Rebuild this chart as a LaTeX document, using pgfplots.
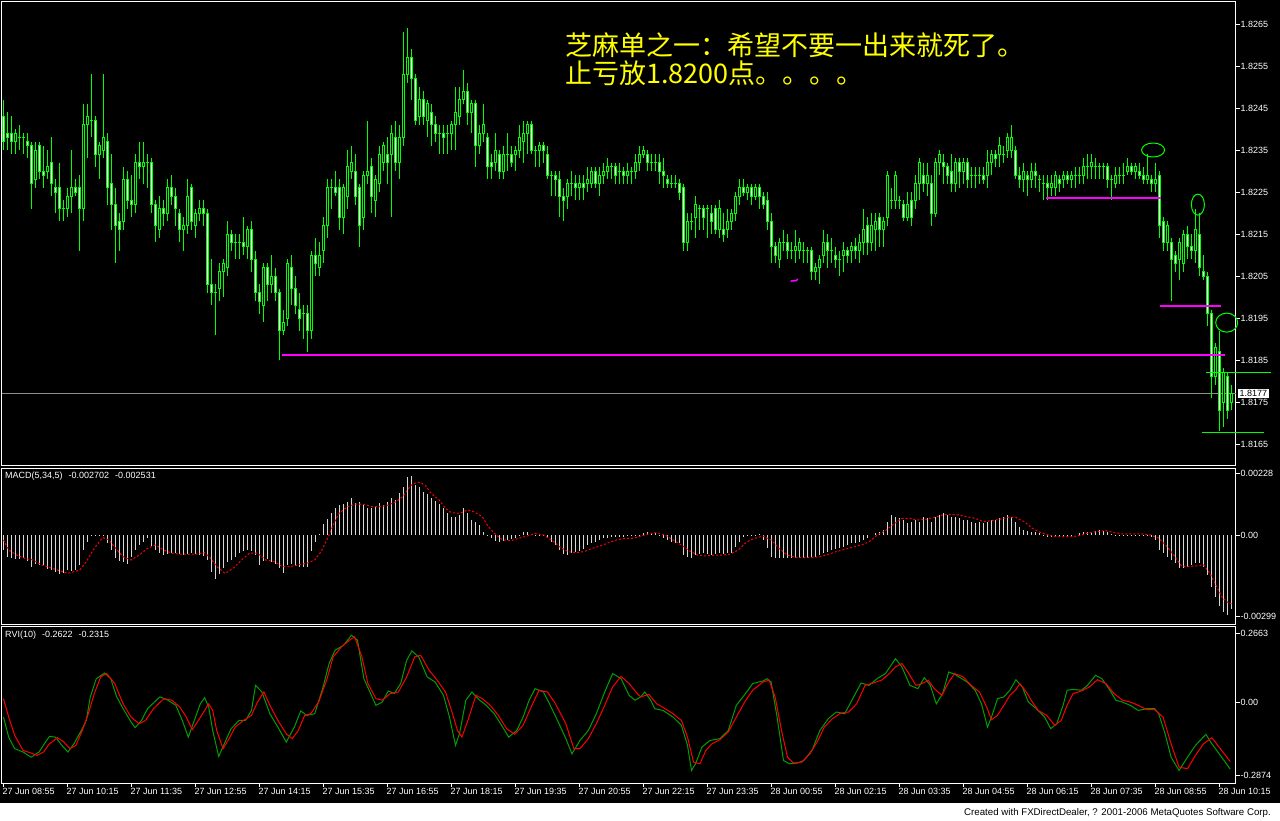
\documentclass[border=0pt]{standalone}
\usepackage{pgfplots}
\pgfplotsset{compat=1.18}
\usepackage{pgfplotstable}
\usetikzlibrary{plotmarks}
\usepackage{fontspec}
\setmainfont{Liberation Sans}
\newfontfamily\cjk{Noto Sans CJK SC}
\newcommand\lab{\fontsize{9}{10}\selectfont}

\definecolor{lime}{RGB}{0,255,0}
\definecolor{mag}{RGB}{255,0,255}
\definecolor{macdbar}{RGB}{215,215,215}
\definecolor{rvig}{RGB}{0,160,0}
\definecolor{rvir}{RGB}{255,0,0}
\definecolor{yel}{RGB}{255,255,0}
\definecolor{bidline}{RGB}{140,140,140}

% 5 min bars, prices in pips above 1.8000 (243 = 1.8243)
\pgfplotstableread{
i o h l c
0 243 247 235 237
1 239 244 235 238
2 239 243 234 237
3 237 240 234 239
4 238 241 235 238
5 238 239 234 238
6 237 239 233 236
7 236 237 221 227
8 228 237 226 235
9 236 237 228 230
10 230 236 226 229
11 230 235 228 231
12 232 238 224 227
13 226 228 220 225
14 226 232 218 221
15 221 223 218 221
16 221 226 219 224
17 224 235 220 226
18 226 228 224 225
19 226 229 211 221
20 221 246 218 241
21 241 246 233 243
22 242 253 238 242
23 242 243 231 234
24 234 237 228 236
25 235 253 233 238
26 237 239 222 226
27 227 234 216 222
28 222 226 208 217
29 218 220 211 216
30 218 231 216 228
31 228 230 221 223
32 223 229 219 222
33 222 234 220 232
34 232 237 228 231
35 231 237 227 232
36 232 234 226 232
37 232 233 220 222
38 222 223 213 217
39 216 224 214 221
40 221 223 217 220
41 220 228 218 226
42 226 229 222 224
43 224 226 217 221
44 220 221 213 216
45 216 219 211 217
46 217 228 215 224
47 226 227 216 218
48 217 221 214 220
49 220 223 218 221
50 221 223 217 220
51 220 221 201 203
52 203 209 198 201
53 201 203 191 201
54 202 208 199 206
55 206 209 200 208
56 207 218 205 215
57 215 216 211 213
58 213 215 209 213
59 213 215 209 213
60 213 219 210 212
61 212 217 209 216
62 216 218 206 209
63 209 211 199 201
64 201 203 196 199
65 198 208 194 207
66 207 208 199 203
67 203 210 201 205
68 205 207 199 201
69 201 202 185 192
70 192 197 191 194
71 195 209 193 208
72 207 210 198 202
73 202 205 196 198
74 197 201 192 195
75 196 198 190 196
76 196 198 187 192
77 192 211 190 210
78 210 214 205 208
79 207 213 205 210
80 211 219 208 217
81 217 228 214 226
82 226 228 221 226
83 226 230 224 225
84 226 228 216 219
85 219 227 215 226
86 224 235 221 231
87 230 236 228 232
88 230 234 222 224
89 226 227 212 217
90 219 230 216 229
91 229 242 227 230
92 231 233 220 224
93 223 229 219 228
94 227 236 225 234
95 232 237 230 236
96 234 238 227 232
97 234 241 219 239
98 238 242 230 232
99 232 241 228 238
100 238 263 236 253
101 253 264 251 257
102 257 259 247 252
103 252 253 241 242
104 243 250 241 247
105 247 249 241 243
106 242 247 238 246
107 244 246 236 241
108 241 243 237 239
109 239 241 234 239
110 239 241 234 238
111 239 241 234 239
112 239 242 235 241
113 241 250 235 244
114 243 250 241 247
115 247 254 246 249
116 249 251 241 244
117 244 247 239 246
118 246 247 231 236
119 236 241 234 239
120 239 246 237 241
121 238 239 228 231
122 232 234 228 231
123 232 239 230 235
124 234 235 228 230
125 230 236 228 234
126 234 239 230 234
127 234 236 231 232
128 234 236 230 235
129 235 241 233 238
130 237 242 232 239
131 239 242 234 241
132 241 242 234 235
133 235 236 231 235
134 235 237 231 236
135 236 237 232 235
136 234 236 228 229
137 229 230 224 229
138 229 230 224 228
139 228 230 219 224
140 224 226 218 223
141 224 228 221 227
142 227 230 224 227
143 227 229 223 226
144 226 229 223 227
145 227 229 223 226
146 227 231 225 228
147 227 231 226 230
148 230 231 226 227
149 227 231 224 229
150 229 232 227 230
151 230 233 228 231
152 231 232 228 231
153 231 232 227 229
154 230 232 227 230
155 230 231 227 229
156 229 232 227 230
157 230 231 227 230
158 230 234 228 232
159 232 236 230 234
160 234 236 233 235
161 234 235 230 232
162 232 234 230 232
163 232 234 230 232
164 232 234 227 230
165 230 233 226 229
166 228 229 226 227
167 227 229 226 227
168 227 229 226 227
169 227 228 223 225
170 226 227 211 213
171 213 220 211 218
172 218 220 216 218
173 219 224 214 222
174 221 222 216 221
175 221 222 216 219
176 221 222 214 221
177 220 222 215 218
178 221 222 215 216
179 216 223 214 221
180 216 220 213 215
181 216 221 214 218
182 218 221 216 220
183 220 225 218 224
184 224 228 222 226
185 226 228 224 225
186 225 227 223 226
187 226 227 222 224
188 224 227 223 226
189 226 227 221 224
190 224 225 221 222
191 223 225 216 218
192 218 220 208 212
193 212 213 208 210
194 209 214 207 213
195 213 216 211 213
196 213 215 209 211
197 211 213 209 211
198 211 216 208 212
199 211 214 209 213
200 211 213 208 211
201 211 212 208 211
202 211 212 204 206
203 206 208 204 207
204 207 210 203 209
205 210 216 208 213
206 213 215 207 211
207 211 214 208 211
208 210 212 207 209
209 209 211 205 209
210 210 213 206 211
211 211 212 208 210
212 211 213 208 212
213 212 214 209 211
214 211 215 208 213
215 213 221 210 216
216 217 219 210 213
217 213 220 211 217
218 216 220 211 218
219 219 220 212 216
220 216 219 212 218
221 219 230 217 229
222 223 226 221 223
223 223 230 221 229
224 223 224 221 223
225 222 223 218 219
226 219 225 218 222
227 223 225 217 219
228 223 229 221 227
229 227 233 223 232
230 229 232 225 227
231 227 232 224 229
232 227 229 217 220
233 220 233 219 232
234 232 235 229 234
235 232 234 227 231
236 231 232 227 229
237 230 234 225 227
238 227 233 225 232
239 232 233 226 230
240 230 233 227 232
241 232 233 226 228
242 229 231 226 229
243 229 231 226 229
244 229 231 227 229
245 229 231 227 228
246 229 235 226 232
247 232 235 229 234
248 234 235 231 233
249 234 238 231 236
250 234 236 232 234
251 235 239 233 238
252 235 241 233 238
253 235 236 228 229
254 229 231 226 228
255 228 232 225 230
256 229 230 224 228
257 228 232 226 230
258 230 232 226 229
259 228 229 225 228
260 227 229 223 227
261 227 229 223 226
262 226 229 224 227
263 226 230 224 229
264 228 229 225 227
265 228 230 226 229
266 229 230 227 228
267 228 230 226 229
268 229 231 226 229
269 229 231 227 229
270 229 233 227 231
271 231 234 228 231
272 231 234 228 232
273 231 233 228 231
274 231 232 228 231
275 231 232 228 231
276 231 232 226 228
277 228 229 223 228
278 227 231 226 229
279 229 231 227 229
280 229 232 227 229
281 230 233 229 231
282 231 232 229 230
283 230 232 228 231
284 230 232 228 229
285 229 231 227 228
286 228 234 227 229
287 228 229 225 227
288 227 232 225 228
289 229 230 214 217
290 218 219 211 213
291 213 218 211 217
292 213 214 199 209
293 210 211 206 208
294 209 214 204 213
295 208 216 206 215
296 215 217 209 212
297 212 215 209 211
298 211 221 208 216
299 215 220 205 207
300 206 210 204 205
301 205 206 193 196
302 196 197 176 181
303 181 189 179 188
304 187 192 168 173
305 175 183 169 182
306 181 182 171 173
307 175 179 173 177
}\candles

\pgfplotsset{
  mt/.style={
    scale only axis, width=1234pt,
    xmin=-0.375, xmax=308.125,
    axis line style={white, line width=1pt},
    tick style={white, line width=1pt},
    tick align=outside, major tick length=4pt,
    ytick pos=right, yticklabel pos=right,
    yticklabel style={text=white, font=\lab, anchor=west, inner sep=0.5pt},
    xtick=\empty,
  },
  % one vertical 1pt stroke per candle, from y by v
  stroke/.style={color=#1, line width=1pt, mark=none, forget plot},
}

\begin{document}
\begin{tikzpicture}[x=1pt,y=1pt]
\path[use as bounding box] (0,0) rectangle (1280,-821);
\fill[black] (0,0) rectangle (1280,-803);
\fill[white] (0,-803) rectangle (1280,-821);

% ---------------- price panel
\begin{axis}[mt, at={(2pt,-2pt)}, anchor=north west, height=463pt,
  ymin=160, ymax=270.24, clip=false,
  ytick={165,175,185,195,205,215,225,235,245,255,265},
  yticklabels={1.8165,1.8175,1.8185,1.8195,1.8205,1.8215,1.8225,1.8235,1.8245,1.8255,1.8265}]

\addplot[bidline, line width=1pt, forget plot] coordinates {(-0.375,177) (308.125,177)};

% wicks
\addplot[stroke=lime, quiver={u=0, v=\thisrow{l}-\thisrow{h}}]
  table[x=i, y=h] {\candles};
% bodies: lime sides, black centre for rising bars, white centre for falling bars
\addplot[stroke=lime, quiver={u=0, v=\thisrow{c}-\thisrow{o}}]
  table[x expr={\thisrow{i}-0.25}, y=o] {\candles};
\addplot[stroke=lime, quiver={u=0, v=\thisrow{c}-\thisrow{o}}]
  table[x expr={\thisrow{i}+0.25}, y=o] {\candles};
\addplot[stroke=black, quiver={u=0, v={max(\thisrow{c}-\thisrow{o},0)}}]
  table[x=i, y=o] {\candles};
\addplot[stroke=white, quiver={u=0, v={max(\thisrow{o}-\thisrow{c},0)}}]
  table[x=i, y=c] {\candles};
\addplot[only marks, mark=-, mark size=1.5pt, color=lime, mark options={line width=1pt}, forget plot]
  table[x=i, y=o] {\candles};
\addplot[only marks, mark=-, mark size=1.5pt, color=lime, mark options={line width=1pt}, forget plot]
  table[x=i, y=c] {\candles};

% trend lines
\addplot[mag, line width=2pt] coordinates {(69.75,186.1) (305.5,186.1)};
\addplot[mag, line width=2pt] coordinates {(289.25,197.9) (304.5,197.9)};
\addplot[mag, line width=2pt] coordinates {(260.75,223.6) (289.5,223.6)};
\addplot[mag, line width=1.5pt] coordinates {(196.8,203.8) (198.2,203.9) (198.6,204.3)};
\addplot[lime, line width=1pt] coordinates {(300.75,182.1) (317,182.1)};
\addplot[lime, line width=1pt] coordinates {(299.75,167.8) (315.25,167.8)};

\draw[lime, line width=1pt] (axis cs:287.4,235.0) ellipse [x radius=11.5pt, y radius=7pt];
\draw[lime, line width=1pt] (axis cs:298.6,222.0) ellipse [x radius=6.5pt, y radius=10.5pt];
\draw[lime, line width=1pt] (axis cs:305.8,193.9) ellipse [x radius=11pt, y radius=9.5pt];

\node[fill=white, text=black, font=\lab, anchor=west, inner sep=1.5pt] at (axis cs:308.125,177) [xshift=2pt] {1.8177};
\end{axis}

% ---------------- MACD panel (values in 1e-5)
\begin{axis}[mt, at={(2pt,-468pt)}, anchor=north west, height=156pt,
  ymin=-327.3, ymax=246.4,
  ytick={-299,0,228}, yticklabels={-0.00299,0.00,0.00228}]
\addplot[ycomb, color=macdbar, line width=1pt, mark=none] coordinates {
(0,-55)(1,-80)(2,-85)(3,-88)(4,-90)(5,-85)(6,-95)(7,-116)(8,-105)(9,-110)(10,-112)(11,-125)(12,-130)(13,-135)(14,-145)(15,-140)(16,-130)(17,-132)(18,-128)(19,-110)
(20,-55)(21,-25)(22,-4)(23,-3)(24,-3)(25,-4)(26,-28)(27,-55)(28,-85)(29,-95)(30,-100)(31,-105)(32,-80)(33,-55)(34,-37)(35,-25)(36,-12)(37,-40)(38,-55)(39,-65)
(40,-74)(41,-70)(42,-68)(43,-68)(44,-70)(45,-72)(46,-70)(47,-68)(48,-70)(49,-72)(50,-78)(51,-92)(52,-135)(53,-160)(54,-145)(55,-120)(56,-100)(57,-92)(58,-80)(59,-67)
(60,-60)(61,-55)(62,-60)(63,-74)(64,-110)(65,-95)(66,-90)(67,-98)(68,-105)(69,-120)(70,-140)(71,-110)(72,-105)(73,-115)(74,-118)(75,-118)(76,-116)(77,-60)(78,-25)(79,5)
(80,40)(81,60)(82,80)(83,100)(84,110)(85,115)(86,123)(87,135)(88,118)(89,123)(90,110)(91,100)(92,98)(93,104)(94,116)(95,110)(96,123)(97,135)(98,130)(99,153)
(100,178)(101,215)(102,217)(103,185)(104,178)(105,159)(106,150)(107,135)(108,125)(109,115)(110,100)(111,80)(112,67)(113,67)(114,75)(115,98)(116,80)(117,55)(118,49)(119,37)
(120,12)(121,-4)(122,-12)(123,-22)(124,-25)(125,-22)(126,-18)(127,-16)(128,-12)(129,-5)(130,12)(131,12)(132,4)(133,-3)(134,-3)(135,-3)(136,-10)(137,-25)(138,-37)(139,-55)
(140,-70)(141,-74)(142,-68)(143,-63)(144,-60)(145,-50)(146,-35)(147,-28)(148,-25)(149,-18)(150,-12)(151,-10)(152,-8)(153,-8)(154,-6)(155,-6)(156,-4)(157,-4)(158,-4)(159,-4)
(160,8)(161,10)(162,8)(163,6)(164,-4)(165,-12)(166,-18)(167,-25)(168,-28)(169,-31)(170,-74)(171,-80)(172,-86)(173,-74)(174,-70)(175,-68)(176,-70)(177,-72)(178,-70)(179,-68)
(180,-70)(181,-67)(182,-67)(183,-43)(184,-25)(185,-9)(186,-4)(187,-4)(188,-3)(189,4)(190,-18)(191,-49)(192,-80)(193,-86)(194,-86)(195,-85)(196,-84)(197,-86)(198,-85)(199,-84)
(200,-86)(201,-84)(202,-82)(203,-80)(204,-74)(205,-65)(206,-61)(207,-55)(208,-52)(209,-49)(210,-45)(211,-37)(212,-31)(213,-28)(214,-25)(215,-18)(216,-10)(217,0)(218,6)(219,12)
(220,20)(221,49)(222,74)(223,67)(224,61)(225,55)(226,43)(227,49)(228,55)(229,49)(230,67)(231,61)(232,49)(233,67)(234,74)(235,80)(236,74)(237,67)(238,67)(239,61)
(240,55)(241,55)(242,49)(243,43)(244,49)(245,43)(246,49)(247,55)(248,55)(249,61)(250,67)(251,74)(252,67)(253,49)(254,30)(255,18)(256,16)(257,12)(258,12)(259,9)
(260,-4)(261,-6)(262,-6)(263,-8)(264,-8)(265,-6)(266,-6)(267,-4)(268,0)(269,6)(270,10)(271,12)(272,12)(273,16)(274,18)(275,16)(276,12)(277,4)(278,-4)(279,-4)
(280,-4)(281,-4)(282,-4)(283,-4)(284,-4)(285,-4)(286,-4)(287,-6)(288,-18)(289,-55)(290,-67)(291,-80)(292,-92)(293,-104)(294,-123)(295,-123)(296,-116)(297,-110)(298,-104)(299,-104)
(300,-116)(301,-147)(302,-190)(303,-227)(304,-262)(305,-282)(306,-294)(307,-272)};
\addplot[rvir, line width=1pt, dash pattern=on 2pt off 2pt, mark=none] coordinates {
(0,-18)(1.3,-55)(3.3,-74)(5.4,-86)(7.4,-92)(9.5,-110)(11.5,-119)(13.5,-129)(16.1,-141)(19.1,-129)(20.7,-98)(22.7,-49)(24.8,-9)(26.3,-18)(27.8,-45)(29.9,-80)(31.9,-92)(33.9,-74)(36,-49)(38,-37)
(40,-55)(42,-67)(44.1,-70)(46.2,-71)(48.2,-70)(50.3,-65)(51.8,-86)(53.3,-116)(55.4,-141)(57.4,-123)(59.5,-92)(61.5,-67)(63.5,-67)(65.6,-92)(67.6,-98)(69.7,-116)(71.7,-116)(73.7,-110)(75.8,-104)(77.8,-92)
(79.4,-61)(80.4,-31)(81.4,0)(82.4,37)(83.9,80)(86,104)(88,114)(90.1,113)(92.1,104)(94.1,104)(96.2,110)(98.2,123)(99.8,141)(101.3,172)(102.3,188)(103.8,194)(105.4,184)(106.9,153)(108.9,129)(110.5,98)
(112,82)(114,80)(116.1,92)(117.6,86)(119.7,67)(121.2,31)(122.7,6)(124.8,-18)(126.8,-21)(128.8,-12)(130.9,-4)(132.9,6)(135,0)(137,-18)(139,-43)(141.1,-61)(143.1,-65)(145.2,-61)(147.2,-49)(149.3,-40)
(151.3,-28)(153.3,-18)(155.4,-12)(157.4,-12)(159.3,-4)(161.3,4)(163.3,9)(165.4,0)(167.4,-18)(169.5,-37)(171.5,-58)(173.5,-74)(175.6,-77)(177.6,-74)(179.7,-74)(181.7,-70)(183.7,-55)(185.8,-25)(187.8,-12)(189.9,-4)
(191.9,-18)(193.9,-49)(196,-74)(198,-82)(200.1,-83)(202.1,-83)(204.1,-80)(206.2,-71)(208.2,-61)(210.3,-53)(212.3,-45)(214.4,-37)(216.4,-25)(218.4,0)(220.5,16)(222.5,40)(224.6,61)(226.6,61)(228.6,55)(230.7,58)
(232.7,65)(234.8,74)(236.8,76)(238.8,74)(240.9,67)(242.9,61)(245,49)(247,53)(249.1,58)(251.1,65)(253.1,65)(255.2,49)(257.2,25)(259.3,9)(261.3,-1)(263.3,-6)(267.4,-6)(269.5,0)(271.5,9)(273.5,13)
(275.6,16)(277.6,9)(279.7,4)(281.7,4)(284.8,4)(286.8,0)(288.8,-12)(290.9,-43)(292.9,-80)(294.5,-114)(296,-116)(298,-114)(300,-110)(301.6,-141)(303.1,-184)(304.7,-230)(306.2,-250)(307,-253)};
\end{axis}

% ---------------- RVI panel
\begin{axis}[mt, at={(2pt,-626pt)}, anchor=north west, height=157pt,
  ymin=-0.3158, ymax=0.2963,
  ytick={-0.2874,0,0.2663}, yticklabels={-0.2874,0.00,0.2663},
  xtick={0,16,32,48,64,80,96,112,128,144,160,176,192,208,224,240,256,272,288,304},
  xtick pos=bottom,
  xticklabels={27 Jun 08:55,27 Jun 10:15,27 Jun 11:35,27 Jun 12:55,27 Jun 14:15,27 Jun 15:35,27 Jun 16:55,27 Jun 18:15,27 Jun 19:35,27 Jun 20:55,27 Jun 22:15,27 Jun 23:35,28 Jun 00:55,28 Jun 02:15,28 Jun 03:35,28 Jun 04:55,28 Jun 06:15,28 Jun 07:35,28 Jun 08:55,28 Jun 10:15},
  xticklabel style={text=white, font=\lab, anchor=north west, xshift=-2pt, inner sep=1pt}]
\addplot[rvig, line width=1pt, mark=none] coordinates {
(0,-0.059)(1.3,-0.137)(2.8,-0.182)(4.9,-0.195)(6.9,-0.215)(8.9,-0.195)(10.5,-0.156)(11.5,-0.134)(13,-0.137)(14.6,-0.169)(16.1,-0.195)(17.6,-0.163)(19.7,-0.104)(20.7,-0.072)(21.7,0.02)(23.2,0.091)(25.3,0.113)(26.8,0.091)(28.3,0.02)(29.9,-0.026)
(31.9,-0.078)(32.9,-0.1)(34.5,-0.072)(36,-0.026)(39.1,0.02)(41.1,0.007)(43.1,-0.013)(44.7,-0.072)(46.2,-0.137)(47.7,-0.072)(49.2,-0.007)(50.3,0.017)(51.3,-0.02)(52.3,-0.111)(53.8,-0.212)(55.4,-0.156)(56.9,-0.104)(58.9,-0.072)(60.5,-0.072)(62,-0.033)
(63,0.065)(64.6,0.039)(66.6,-0.046)(68.6,-0.098)(70.7,-0.156)(72.7,-0.098)(74.3,-0.035)(75.8,-0.052)(77.8,-0.046)(79.9,0.059)(81.4,0.15)(82.9,0.202)(85,0.221)(87,0.26)(88.5,0.241)(90.1,0.091)(91.6,0.039)(93.1,-0.013)(94.7,0)(96.2,0.043)
(97.7,0.033)(99.3,0.072)(100.8,0.163)(102.1,0.199)(103.8,0.176)(105.9,0.098)(107.9,0.078)(110,0.026)(111.5,-0.059)(113,-0.169)(114,-0.124)(115.6,0.007)(117.1,0.039)(118.6,0.013)(120.7,-0.013)(122.7,-0.046)(124.8,-0.098)(126.3,-0.137)(128.3,-0.111)(129.9,-0.059)
(131.4,0.007)(132.9,0.052)(135,0.039)(136.5,-0.007)(138.5,-0.072)(140.6,-0.143)(142.1,-0.202)(144.1,-0.15)(146.2,-0.111)(148.2,-0.046)(150.3,0.039)(152.3,0.111)(154.4,0.091)(156.4,0.026)(157.9,0.007)(159.3,0.02)(160.3,0.039)(161.8,0.007)(162.8,-0.026)(164.9,-0.033)
(167.4,-0.059)(169.5,-0.091)(171,-0.169)(172,-0.267)(173,-0.241)(174.6,-0.176)(176.6,-0.15)(179.1,-0.143)(181.2,-0.111)(183.2,-0.013)(185.8,0.039)(187.3,0.072)(189.9,0.082)(190.9,0.091)(191.9,0.078)(193.4,-0.059)(195,-0.228)(196.5,-0.241)(198.5,-0.238)(200.1,-0.228)
(202.1,-0.189)(204.1,-0.111)(206.2,-0.065)(208.2,-0.039)(210.3,-0.046)(212.3,0.013)(214.4,0.074)(216.4,0.065)(218.4,0.091)(220.5,0.111)(223,0.169)(224.6,0.137)(226.6,0.065)(228.6,0.052)(230.2,0.095)(231.7,0.065)(233.2,-0.007)(234.8,0.033)(236.3,0.117)(237.8,0.108)
(240.9,0.078)(242.9,0.046)(244.5,-0.007)(246,-0.098)(247,-0.059)(248.5,0.013)(250.1,0.02)(251.6,0.046)(253.1,0.087)(254.7,0.059)(256.2,0)(258.2,-0.026)(260.3,-0.059)(261.8,-0.104)(263.3,-0.085)(264.9,-0.013)(265.9,0.046)(267.4,0.049)(269.5,0.046)(271,0.065)
(273,0.104)(274.6,0.091)(276.6,0.046)(278.1,0.007)(279.7,0)(281.7,-0.013)(283.7,-0.033)(285.8,-0.026)(287.8,-0.026)(288.8,-0.046)(290.4,-0.124)(291.9,-0.215)(293.9,-0.267)(296,-0.215)(298,-0.169)(300.6,-0.126)(302.1,-0.163)(304.2,-0.208)(306.7,-0.262)};
\addplot[rvir, line width=1pt, mark=none] coordinates {
(0,0.013)(1.3,-0.059)(2.8,-0.13)(4.9,-0.189)(6.9,-0.199)(8.4,-0.208)(10,-0.195)(11.5,-0.163)(13.5,-0.139)(15.1,-0.156)(16.6,-0.182)(18.1,-0.169)(19.7,-0.111)(21.2,-0.046)(22.7,0.033)(24.3,0.098)(25.8,0.111)(27.8,0.072)(29.9,-0.007)(31.9,-0.059)
(33.9,-0.085)(35.5,-0.072)(37.5,-0.026)(40.1,0.013)(42.1,0.007)(44.1,-0.02)(45.7,-0.059)(47.2,-0.108)(48.7,-0.072)(50.3,-0.033)(51.3,-0.007)(52.3,-0.033)(53.3,-0.111)(54.9,-0.182)(56.4,-0.143)(57.9,-0.098)(60,-0.072)(62,-0.052)(63.5,0)(65.1,0.039)
(66.6,-0.013)(68.6,-0.072)(70.7,-0.124)(72.2,-0.143)(73.7,-0.111)(75.3,-0.052)(76.8,-0.046)(78.8,0)(80.9,0.091)(82.4,0.176)(84.5,0.215)(86.5,0.241)(87.8,0.254)(89.6,0.176)(91.1,0.072)(93.1,0.013)(94.7,0.007)(96.7,0.033)(98.7,0.039)(100.8,0.098)
(102.8,0.176)(104.3,0.182)(106.4,0.124)(108.4,0.085)(110.5,0.039)(112,-0.033)(113.5,-0.111)(114.6,-0.137)(116.1,-0.072)(118.1,0.026)(119.7,0.013)(121.7,-0.013)(123.7,-0.052)(125.8,-0.104)(127.8,-0.126)(129.9,-0.091)(131.9,-0.02)(133.9,0.046)(136,0.039)(138,-0.007)
(140.6,-0.085)(142.6,-0.182)(144.1,-0.182)(146.2,-0.143)(148.2,-0.085)(150.3,-0.013)(152.3,0.059)(154.4,0.1)(156.4,0.072)(158.4,0.033)(159.3,0.02)(161.3,0.03)(163.3,-0.007)(165.4,-0.026)(167.4,-0.046)(169.5,-0.072)(171,-0.137)(172.5,-0.234)(174.1,-0.241)(175.6,-0.189)
(177.1,-0.163)(179.1,-0.147)(181.2,-0.117)(183.2,-0.059)(185.3,0)(187.3,0.046)(189.9,0.078)(191.4,0.085)(192.9,0.02)(194.5,-0.111)(196,-0.215)(197.5,-0.238)(199.6,-0.234)(201.6,-0.202)(203.6,-0.15)(205.2,-0.098)(207.2,-0.065)(209.3,-0.043)(211.3,-0.039)(213.3,-0.007)
(215.4,0.065)(217.4,0.074)(219.5,0.085)(221.5,0.111)(223,0.137)(224.6,0.15)(226.1,0.117)(228.1,0.065)(229.7,0.072)(231.2,0.085)(232.7,0.052)(234.6,0.026)(236.3,0.078)(237.8,0.111)(239.9,0.098)(241.9,0.065)(244,0.039)(245.8,-0.02)(247,-0.069)(248.5,-0.052)
(250.1,-0.013)(251.6,0.026)(253.1,0.048)(254.1,0.072)(255.7,0.039)(257.2,0)(258.7,-0.033)(260.8,-0.052)(262.8,-0.091)(264.4,-0.072)(265.9,-0.013)(267.4,0.033)(269.5,0.043)(271.5,0.059)(273.5,0.087)(275.6,0.072)(277.6,0.033)(279.7,0.007)(281.7,0)(283.7,-0.013)
(285.8,-0.03)(287.8,-0.03)(289.9,-0.059)(291.9,-0.163)(293.9,-0.254)(296,-0.26)(298,-0.208)(300,-0.163)(302.1,-0.139)(304.2,-0.182)(306.7,-0.232)};
\end{axis}

% texts
\node[anchor=west, text=yel, font=\cjk\fontsize{27}{30}\selectfont, inner sep=0pt] at (565,-45) {芝麻单之一：希望不要一出来就死了。};
\node[anchor=west, text=yel, font=\cjk\fontsize{27}{30}\selectfont, inner sep=0pt] at (565,-73) {止亏放1.8200点。。。。};
\node[anchor=west, text=white, font=\lab, inner sep=0pt] at (5,-476) {MACD(5,34,5)\hspace{6pt}-0.002702\hspace{6pt}-0.002531};
\node[anchor=west, text=white, font=\lab, inner sep=0pt] at (5,-635) {RVI(10)\hspace{6pt}-0.2622\hspace{6pt}-0.2315};
\node[anchor=east, text=black, font=\fontsize{9.7}{11}\selectfont, inner sep=0pt] at (1271,-813) {Created with FXDirectDealer, ? 2001-2006 MetaQuotes Software Corp.};
\end{tikzpicture}
\end{document}
